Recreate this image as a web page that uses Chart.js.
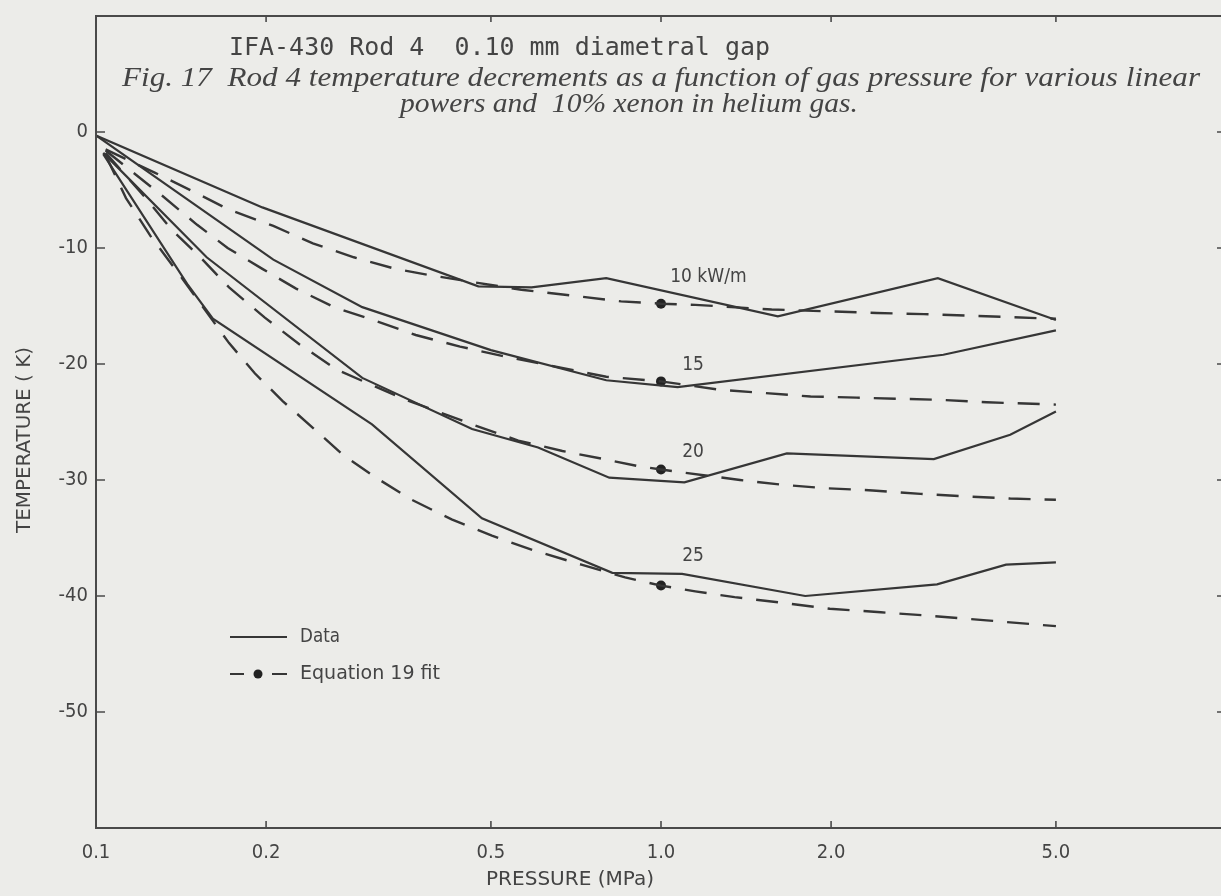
<!DOCTYPE html>
<html>
<head>
<meta charset="utf-8">
<title>IFA-430 Rod 4 temperature decrements</title>
<script src="https://cdn.jsdelivr.net/npm/chart.js@4.4.1/dist/chart.umd.min.js"></script>
<style>
  html, body { margin: 0; padding: 0; overflow: hidden; background: #ecece9; }
  #wrap { position: relative; width: 1232px; height: 896px; }
</style>
</head>
<body>
<div id="wrap"><canvas id="chart"></canvas></div>
<script>
// Axis ticks
const pressureTicks = [0.1, 0.2, 0.5, 1.0, 2.0, 5.0];          // MPa
const temperatureTicks = [0, -10, -20, -30, -40, -50];          // K

// Measured temperature decrements (solid lines)
const data10P = [0.1, 0.197, 0.475, 0.59, 0.80, 1.61, 3.09, 5.0];
const data10T = [-0.3, -6.5, -13.3, -13.4, -12.6, -15.9, -12.6, -16.2];
const data15P = [0.1, 0.206, 0.296, 0.5, 0.80, 1.07, 3.16, 5.0];
const data15T = [-0.3, -11.0, -15.1, -18.8, -21.4, -22.0, -19.2, -17.1];
const data20P = [0.103, 0.157, 0.296, 0.463, 0.606, 0.81, 1.10, 1.67, 3.04, 4.15, 5.0];
const data20T = [-1.8, -10.8, -21.2, -25.6, -27.2, -29.8, -30.2, -27.7, -28.2, -26.1, -24.1];
const data25P = [0.103, 0.145, 0.161, 0.308, 0.482, 0.82, 1.09, 1.80, 3.08, 4.08, 5.0];
const data25T = [-1.9, -13.1, -16.1, -25.2, -33.3, -38.0, -38.1, -40.0, -39.0, -37.3, -37.1];

// Equation 19 fit curves (dashed lines)
const fit10P = [0.104, 0.127, 0.151, 0.172, 0.206, 0.242, 0.286, 0.339, 0.396, 0.566, 0.695, 0.85, 1.0, 1.15, 1.57, 2.41, 2.92, 5.0];
const fit10T = [-1.5, -3.5, -5.3, -6.7, -8.1, -9.6, -10.8, -11.8, -12.4, -13.6, -14.1, -14.6, -14.8, -14.9, -15.3, -15.6, -15.7, -16.1];
const fit15P = [0.104, 0.131, 0.151, 0.171, 0.197, 0.226, 0.264, 0.313, 0.368, 0.441, 0.523, 0.80, 1.0, 1.26, 1.52, 1.84, 2.22, 3.16, 3.77, 5.0];
const fit15T = [-1.6, -5.5, -8.0, -10.0, -11.8, -13.5, -15.1, -16.3, -17.5, -18.5, -19.3, -21.1, -21.5, -22.2, -22.5, -22.8, -22.9, -23.1, -23.3, -23.5];
const fit20P = [0.104, 0.121, 0.136, 0.153, 0.172, 0.199, 0.229, 0.267, 0.35, 0.463, 0.559, 0.669, 0.793, 0.909, 1.0, 1.38, 1.63, 1.94, 2.37, 2.88, 3.43, 4.15, 5.0];
const fit20T = [-1.8, -5.4, -8.4, -10.8, -13.4, -16.0, -18.3, -20.5, -23.0, -25.2, -26.6, -27.5, -28.2, -28.8, -29.1, -30.0, -30.4, -30.7, -30.9, -31.2, -31.4, -31.6, -31.7];
const fit25P = [0.104, 0.113, 0.125, 0.142, 0.172, 0.191, 0.214, 0.242, 0.273, 0.313, 0.362, 0.426, 0.502, 0.598, 0.723, 0.864, 1.0, 1.15, 1.35, 1.65, 1.99, 2.45, 2.98, 3.77, 5.0];
const fit25T = [-2.0, -5.7, -9.0, -12.6, -18.2, -20.8, -23.2, -25.5, -27.8, -29.8, -31.7, -33.4, -34.8, -36.1, -37.3, -38.4, -39.1, -39.6, -40.1, -40.6, -41.1, -41.4, -41.7, -42.1, -42.6];

// Fit values marked at 1.0 MPa
const fitDotP = [1.0, 1.0, 1.0, 1.0];
const fitDotT = [-14.8, -21.5, -29.1, -39.1];

// Linear power labels and where they sit (pressure, temperature)
const powerLabels = ['10 kW/m', '15', '20', '25'];
const powerLabelP = [1.038, 1.09, 1.09, 1.09];
const powerLabelT = [-12.5, -20.1, -27.6, -36.6];

const titleText = 'IFA-430 Rod 4  0.10 mm diametral gap';
const captionLine1 = 'Fig. 17  Rod 4 temperature decrements as a function of gas pressure for various linear';
const captionLine2 = 'powers and  10% xenon in helium gas.';

const INK = '#363636';
const TEXT = '#444444';
const NARROW = "'Liberation Sans Narrow', 'DejaVu Sans Condensed', 'Liberation Sans', sans-serif";

const zip = (ps, ts) => ps.map((p, i) => ({ x: p, y: ts[i] }));

function solid(ps, ts) {
  return { data: zip(ps, ts), borderColor: INK, borderWidth: 2.2, pointRadius: 0, fill: false, tension: 0 };
}
function dashed(ps, ts) {
  return { data: zip(ps, ts), borderColor: INK, borderWidth: 2.4, borderDash: [22, 14], pointRadius: 0, fill: false, tension: 0 };
}

// Draws text starting at x, squeezed or stretched horizontally to a given width
function fitText(ctx, text, x, y, width, font) {
  ctx.save();
  ctx.font = font;
  const w = ctx.measureText(text).width;
  ctx.translate(x, y);
  ctx.scale(width / w, 1);
  ctx.textAlign = 'left';
  ctx.fillText(text, 0, 0);
  ctx.restore();
  return width / w;
}

const decorations = {
  id: 'decorations',
  afterDraw(chart) {
    const { ctx, chartArea: a, scales: { x, y } } = chart;
    ctx.save();

    // frame
    ctx.strokeStyle = '#4a4a4a';
    ctx.lineWidth = 2;
    ctx.strokeRect(a.left, a.top, a.right - a.left, a.bottom - a.top);

    // inward tick marks
    ctx.lineWidth = 1.6;
    ctx.beginPath();
    pressureTicks.slice(1).forEach(p => {
      const px = x.getPixelForValue(p);
      ctx.moveTo(px, a.bottom); ctx.lineTo(px, a.bottom - 7);
      ctx.moveTo(px, a.top); ctx.lineTo(px, a.top + 6);
    });
    temperatureTicks.forEach(t => {
      const py = y.getPixelForValue(t);
      ctx.moveTo(a.left, py); ctx.lineTo(a.left + 9, py);
      ctx.moveTo(a.right, py); ctx.lineTo(a.right - 9, py);
    });
    ctx.stroke();

    ctx.fillStyle = TEXT;
    ctx.textBaseline = 'alphabetic';

    // heading and caption
    fitText(ctx, titleText, 229, 55, 541, "24px 'DejaVu Sans Mono', monospace");
    fitText(ctx, captionLine1, 122, 86, 1078, "italic 27px 'Liberation Serif', serif");
    fitText(ctx, captionLine2, 400, 112, 458, "italic 27px 'Liberation Serif', serif");

    // axis titles
    ctx.save();
    ctx.font = '19px ' + NARROW;
    const yt = 'TEMPERATURE ( K)';
    const ytw = ctx.measureText(yt).width;
    ctx.translate(25, 440);
    ctx.rotate(-Math.PI / 2);
    ctx.scale(186 / ytw, 1);
    ctx.textAlign = 'center';
    ctx.textBaseline = 'middle';
    ctx.fillText(yt, 0, 0);
    ctx.restore();

    ctx.textBaseline = 'middle';
    fitText(ctx, 'PRESSURE (MPa)', 486, 880, 168, '19px ' + NARROW);

    // power labels
    ctx.font = '19px ' + NARROW;
    ctx.textAlign = 'left';
    powerLabels.forEach((txt, i) => {
      ctx.fillText(txt, x.getPixelForValue(powerLabelP[i]), y.getPixelForValue(powerLabelT[i]));
    });

    // legend
    ctx.strokeStyle = INK;
    ctx.lineWidth = 2.2;
    ctx.beginPath();
    ctx.moveTo(230, 637); ctx.lineTo(287, 637);
    ctx.moveTo(230, 674); ctx.lineTo(244, 674);
    ctx.moveTo(272, 674); ctx.lineTo(287, 674);
    ctx.stroke();
    ctx.fillStyle = '#222';
    ctx.beginPath();
    ctx.arc(258, 674, 4.5, 0, Math.PI * 2);
    ctx.fill();
    ctx.fillStyle = TEXT;
    fitText(ctx, 'Data', 300, 637, 40, '19px ' + NARROW);
    fitText(ctx, 'Equation 19 fit', 300, 674, 140, '19px ' + NARROW);

    ctx.restore();
  }
};

new Chart(document.getElementById('chart'), {
  type: 'line',
  data: {
    datasets: [
      solid(data10P, data10T),
      solid(data15P, data15T),
      solid(data20P, data20T),
      solid(data25P, data25T),
      dashed(fit10P, fit10T),
      dashed(fit15P, fit15T),
      dashed(fit20P, fit20T),
      dashed(fit25P, fit25T),
      {
        type: 'scatter',
        data: zip(fitDotP, fitDotT),
        pointRadius: 5,
        pointBackgroundColor: '#222',
        pointBorderWidth: 0,
        showLine: false
      }
    ]
  },
  options: {
    responsive: true,
    maintainAspectRatio: false,
    animation: false,
    events: [],
    layout: { padding: { left: 0, top: 16, right: 6, bottom: 0 } },
    plugins: { legend: { display: false }, tooltip: { enabled: false } },
    scales: {
      x: {
        type: 'logarithmic',
        min: 0.1,
        max: 10,
        afterBuildTicks: s => { s.ticks = pressureTicks.map(v => ({ value: v })); },
        afterFit: s => { s.height = 68; s.paddingLeft = 0; s.paddingRight = 0; },
        grid: { display: false, drawTicks: false },
        border: { display: false },
        ticks: {
          autoSkip: false,
          maxRotation: 0,
          padding: 13,
          color: TEXT,
          font: { family: NARROW, size: 20 },
          callback: v => Number(v).toFixed(1)
        }
      },
      y: {
        type: 'linear',
        min: -60,
        max: 10,
        afterBuildTicks: s => { s.ticks = temperatureTicks.map(v => ({ value: v })); },
        afterFit: s => { s.width = 96; s.paddingTop = 0; s.paddingBottom = 0; },
        grid: { display: false, drawTicks: false },
        border: { display: false },
        ticks: {
          padding: 8,
          color: TEXT,
          font: { family: NARROW, size: 20 },
          callback: v => String(v)
        }
      }
    }
  },
  plugins: [decorations]
});
</script>
</body>
</html>
